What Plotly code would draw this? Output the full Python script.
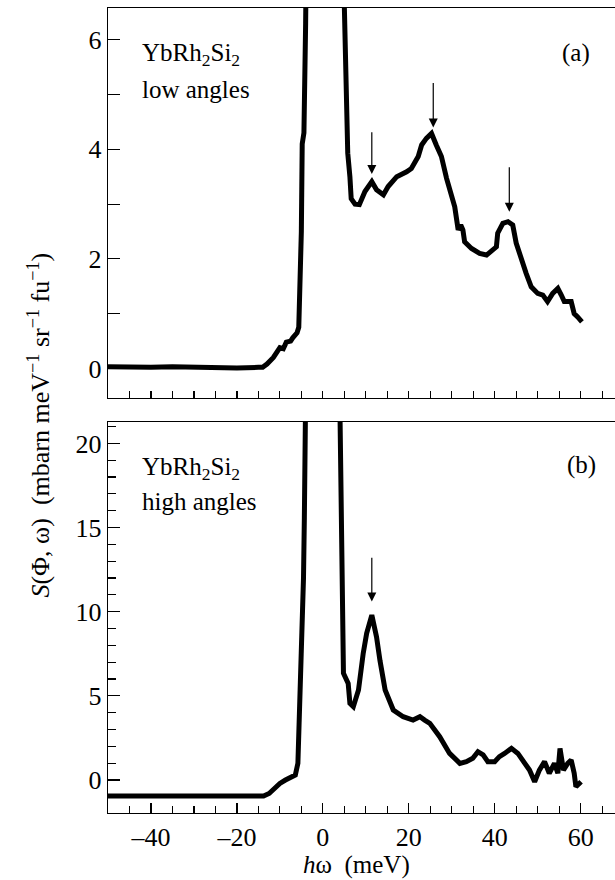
import plotly.graph_objects as go

# ---- data ----
energy_low = [-50, -45, -40, -35, -30, -25, -20, -15, -14,
              -13, -11.5, -10, -9.2, -8.5, -7.5, -7, -6, -5.6, -5.3, -5.0, -4.8, -4.4, -4.0,
              -3.5, -2, 0, 2, 4, 5.0, 5.6, 5.8, 6.3, 6.6, 7.5, 8.5, 9.8, 11.4, 12.5, 14.1,
              15.2, 17.2, 19.5, 20.6, 22.2, 23.0, 24.1, 25.3, 26.4, 27.6, 28.8, 29.9,
              30.7, 31.5, 32.1, 32.6, 33.0, 34.6, 36.5, 38.1, 39.6, 40.4, 40.7, 41.9, 43.1,
              44.2, 45.0, 46.2, 47.3, 48.5, 50.0, 51.2, 52.3, 53.5, 54.7, 55.5, 56.2,
              57.8, 58.5, 59.3, 60.3]
s_low = [0.03, 0.02, 0.02, 0.03, 0.02, 0.03, 0.01, 0.02, 0.02,
         0.08, 0.2, 0.38, 0.36, 0.48, 0.5, 0.56, 0.65, 0.75, 1.5, 2.5, 4.1, 4.3, 6.3,
         9.0, 20, 40, 20, 10, 7.0, 4.6, 3.93, 3.5, 3.1, 3.0, 2.99, 3.23, 3.41, 3.26, 3.17,
         3.32, 3.50, 3.59, 3.65, 3.87, 4.08, 4.20, 4.29, 4.08, 3.87, 3.47, 3.20,
         2.95, 2.53, 2.62, 2.53, 2.31, 2.19, 2.10, 2.07, 2.16, 2.22, 2.47, 2.65, 2.68,
         2.62, 2.29, 1.98, 1.74, 1.49, 1.37, 1.34, 1.22, 1.37, 1.46, 1.34, 1.22,
         1.22, 1.0, 0.94, 0.85]

energy_high = [-50, -45, -40, -35, -30, -25, -20, -15, -13.8,
               -12.5, -11.4, -10, -8.7, -7.5, -6.4, -5.8, -5.6, -5.3, -5.0, -4.7, -4.5,
               -4.3, -3.8, -3.3, -2, 0, 2, 3.5, 4.2, 4.4, 4.8, 5.9, 6.3, 7.1, 8.3, 9.4,
               10.2, 11.4, 12.5, 13.3, 14.5, 16.4, 18.7, 21.0, 22.6, 23.7, 24.9, 27.2,
               29.5, 31.9, 33.4, 34.9, 36.1, 37.3, 38.4, 40.0, 41.1, 42.3, 43.9, 45.4,
               46.9, 48.1, 49.3, 50.4, 51.6, 52.7, 53.9, 54.7, 55.2, 56.0, 57.0, 57.8,
               58.5, 58.9, 60.1]
s_high = [-0.95, -0.95, -0.97, -0.95, -0.96, -0.95, -0.97, -0.95, -0.95,
          -0.8, -0.5, -0.2, 0.0, 0.15, 0.3, 1.0, 2.6, 5.0, 7.5, 8.5, 12.0,
          15.6, 19.0, 22.0, 60, 120, 60, 30, 21, 13.1, 6.34, 5.74, 4.56, 4.36, 5.35, 7.53,
          8.71, 9.8, 8.5, 7.1, 5.35, 4.16, 3.76, 3.56, 3.76, 3.56, 3.37, 2.57,
          1.58, 0.99, 1.09, 1.29, 1.68, 1.49, 1.09, 1.09, 1.39, 1.58, 1.88, 1.58,
          0.99, 0.59, -0.1, 0.59, 1.09, 0.40, 0.99, 0.40, 1.88, 0.59, 0.99, 1.19,
          0.40, -0.40, -0.1]

arrows_low_x = [11.4, 25.7, 43.4]
arrows_low_tip = [3.55, 4.40, 2.86]
arrows_low_tail = [4.34, 5.24, 3.70]
arrows_high_x = [11.4]
arrows_high_tip = [10.6]
arrows_high_tail = [13.3]

x_tickvals = [-40, -20, 0, 20, 40, 60]
x_ticktext = ["\u201340", "\u201320", "0", "20", "40", "60"]
y_low_tickvals = [0, 1, 2, 3, 4, 5, 6]
y_low_ticktext = ["0", "", "2", "", "4", "", "6"]
y_high_tickvals = [0, 5, 10, 15, 20]

FONT = "Liberation Serif, Times New Roman, Tinos, serif"
fig = go.Figure()
fig.add_trace(go.Scatter(x=energy_low, y=s_low, mode="lines",
                         line=dict(color="black", width=5), xaxis="x", yaxis="y",
                         showlegend=False, hoverinfo="skip"))
fig.add_trace(go.Scatter(x=energy_high, y=s_high, mode="lines",
                         line=dict(color="black", width=5), xaxis="x2", yaxis="y2",
                         showlegend=False, hoverinfo="skip"))

axis_common = dict(showline=True, linecolor="black", linewidth=1.3, ticks="inside",
                   tickcolor="black", tickwidth=1.2, showgrid=False, zeroline=False,
                   tickfont=dict(family=FONT, size=26, color="black"))

fig.update_layout(
    width=615, height=880,
    margin=dict(l=108, r=0, t=8, b=67),
    plot_bgcolor="white", paper_bgcolor="white",
    font=dict(family=FONT, color="black", size=25),
    hovermode=False,
    xaxis=dict(domain=[0, 1], anchor="y", range=[-50, 68], dtick=5, tick0=0,
               ticklen=7, showticklabels=False, mirror=True, **axis_common),
    yaxis=dict(domain=[0.5155, 1], anchor="x", range=[-0.54, 6.58],
               tickvals=y_low_tickvals, ticktext=y_low_ticktext, ticklen=12,
               **axis_common),
    xaxis2=dict(domain=[0, 1], anchor="y2", range=[-50, 68],
                tickvals=x_tickvals, ticktext=x_ticktext, ticklen=10, mirror=True,
                minor=dict(dtick=5, tick0=0, ticklen=7, ticks="inside",
                           tickcolor="black", tickwidth=1.2, showgrid=False),
                **axis_common),
    yaxis2=dict(domain=[0, 0.4857], anchor="x2", range=[-1.96, 21.27],
                tickvals=y_high_tickvals, ticklen=12,
                minor=dict(dtick=1, tick0=0, ticklen=8, ticks="inside",
                           tickcolor="black", tickwidth=1.2, showgrid=False),
                **axis_common),
)

def txt(xref, yref, x, y, text, xanchor="left", size=25, **kw):
    return dict(xref=xref, yref=yref, x=x, y=y, text=text, showarrow=False,
                xanchor=xanchor, yanchor="middle",
                font=dict(family=FONT, size=size, color="black"), **kw)

ann = []
ann.append(txt("paper", "paper", -0.135, 0.482,
               "<i>S</i>(\u03a6, \u03c9)  (mbarn meV<sup>\u22121</sup> sr<sup>\u22121</sup> fu<sup>\u22121</sup>)",
               xanchor="center", size=26, textangle=-90))
ann.append(txt("paper", "paper", 0.491, -0.064, "<i>h</i>\u03c9  (meV)", xanchor="center", size=25))
ann.append(txt("x domain", "y domain", 0.063, 0.880, "YbRh<sub>2</sub>Si<sub>2</sub>"))
ann.append(txt("x domain", "y domain", 0.063, 0.790, "low angles"))
ann.append(txt("x domain", "y domain", 0.955, 0.885, "(a)", xanchor="right"))
ann.append(txt("x2 domain", "y2 domain", 0.063, 0.882, "YbRh<sub>2</sub>Si<sub>2</sub>"))
ann.append(txt("x2 domain", "y2 domain", 0.063, 0.797, "high angles"))
ann.append(txt("x2 domain", "y2 domain", 0.966, 0.890, "(b)", xanchor="right"))
for xv, tip, tail in zip(arrows_low_x, arrows_low_tip, arrows_low_tail):
    ann.append(dict(xref="x", yref="y", axref="x", ayref="y", x=xv, y=tip, ax=xv, ay=tail,
                    showarrow=True, arrowhead=2, arrowsize=1.5, arrowwidth=1.2,
                    arrowcolor="black", text=""))
for xv, tip, tail in zip(arrows_high_x, arrows_high_tip, arrows_high_tail):
    ann.append(dict(xref="x2", yref="y2", axref="x2", ayref="y2", x=xv, y=tip, ax=xv, ay=tail,
                    showarrow=True, arrowhead=2, arrowsize=1.5, arrowwidth=1.2,
                    arrowcolor="black", text=""))
fig.update_layout(annotations=ann)

fig.write_html("out.html", config={"displayModeBar": False, "staticPlot": True},
               post_script="document.body.style.margin='0px';document.body.style.padding='0px';")
